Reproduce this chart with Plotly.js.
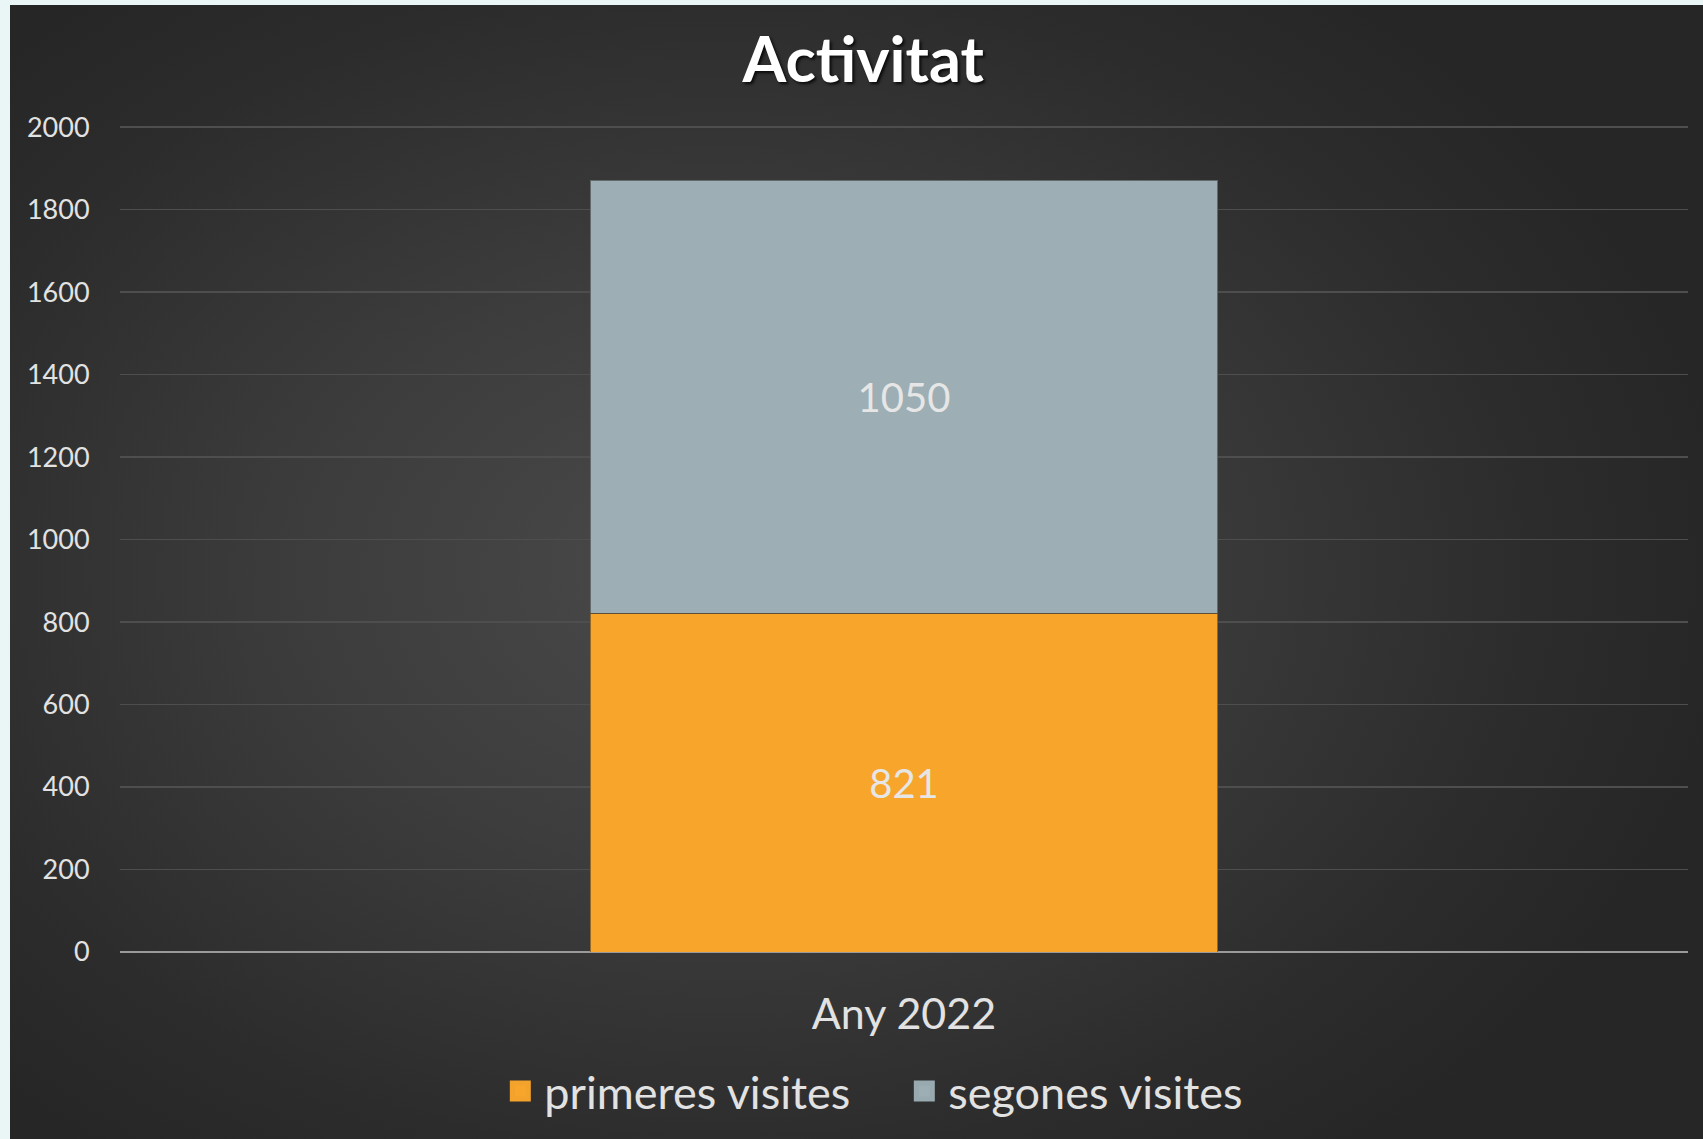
<!DOCTYPE html>
<html>
<head>
<meta charset="utf-8">
<script src="https://cdn.plot.ly/plotly-3.0.1.min.js"></script>
<style>
  html, body { margin: 0; padding: 0; background: #eaf6f6; width: 1703px; height: 1139px; overflow: hidden; }
  #chart {
    position: absolute; left: 10px; top: 5px; width: 1693px; height: 1134px;
    background: radial-gradient(ellipse 60% 65% at 42% 50%, #4a4a4a 0%, #3d3d3d 40%, #2c2c2c 80%, #262626 100%);
  }
</style>
</head>
<body>
<div id="chart"></div>
<script>
const categories = ["Any 2022"];
const seriesNames = ["primeres visites", "segones visites"];
const primeresVisites = [821];
const segonesVisites = [1050];
const seriesColors = ["#f8a52c", "#9dafb4"];
const legendEdgeColors = ["#f3a22c", "#98aaaf"];
const yTicks = [0, 200, 400, 600, 800, 1000, 1200, 1400, 1600, 1800, 2000];

const FONT = "Lato, 'Open Sans', sans-serif";
const traces = [
  {
    type: "bar", name: seriesNames[0], x: categories, y: primeresVisites,
    text: primeresVisites.map(String), textposition: "inside", insidetextanchor: "middle",
    textfont: { family: FONT, size: 40, color: "#e6e6e6" },
    marker: { color: seriesColors[0], line: { color: "rgba(120,90,40,0.8)", width: 1 } },
    hoverinfo: "none", showlegend: false
  },
  {
    type: "bar", name: seriesNames[1], x: categories, y: segonesVisites,
    text: segonesVisites.map(String), textposition: "inside", insidetextanchor: "middle",
    textfont: { family: FONT, size: 40, color: "#e6e6e6" },
    marker: { color: seriesColors[1], line: { color: "rgba(60,60,60,0.6)", width: 1 } },
    hoverinfo: "none", showlegend: false
  },
  // legend entries (larger square symbols than bar legend swatches)
  {
    type: "scatter", mode: "markers", name: seriesNames[0], x: [null], y: [null],
    marker: { symbol: "square", size: 24, color: seriesColors[0], line: { color: legendEdgeColors[0], width: 5 } },
    hoverinfo: "none"
  },
  {
    type: "scatter", mode: "markers", name: seriesNames[1], x: [null], y: [null],
    marker: { symbol: "square", size: 24, color: seriesColors[1], line: { color: legendEdgeColors[1], width: 5 } },
    hoverinfo: "none"
  }
];

const layout = {
  width: 1693, height: 1134,
  paper_bgcolor: "rgba(0,0,0,0)", plot_bgcolor: "rgba(0,0,0,0)",
  margin: { l: 110, r: 15, t: 118, b: 185 },
  barmode: "stack", bargap: 0.6,
  title: {
    text: "<b>Activitat</b>", x: 0.504, xref: "container", xanchor: "center",
    y: 1 - 55 / 1134, yref: "container", yanchor: "middle",
    font: { family: FONT, size: 63, weight: 900, color: "#ffffff", shadow: "2px 2px 3px rgba(0,0,0,0.8)" }
  },
  font: { family: FONT, color: "#e2e2e2" },
  xaxis: {
    type: "category", showgrid: false, showline: false, zeroline: false,
    ticks: "outside", ticklen: 24, tickcolor: "rgba(0,0,0,0)",
    tickfont: { family: FONT, size: 43, color: "#e2e2e2" }
  },
  yaxis: {
    range: [0, 2010], tickvals: yTicks, ticktext: yTicks.map(String),
    showgrid: true, gridcolor: "#4e4e4e", gridwidth: 1.5,
    zeroline: true, zerolinecolor: "#9a9a9a", zerolinewidth: 2.5,
    showline: false,
    ticks: "outside", ticklen: 24, tickcolor: "rgba(0,0,0,0)",
    tickfont: { family: FONT, size: 27, color: "#e2e2e2" }
  },
  legend: {
    orientation: "h", x: 0.24, xanchor: "left", xref: "paper",
    y: -0.168, yanchor: "middle", yref: "paper",
    font: { family: FONT, size: 45, color: "#e2e2e2" },
    traceorder: "normal", itemwidth: 38, entrywidth: 351, entrywidthmode: "pixels",
    bgcolor: "rgba(0,0,0,0)"
  },
  showlegend: true
};

Plotly.newPlot("chart", traces, layout, { displayModeBar: false, staticPlot: true });
</script>
</body>
</html>
